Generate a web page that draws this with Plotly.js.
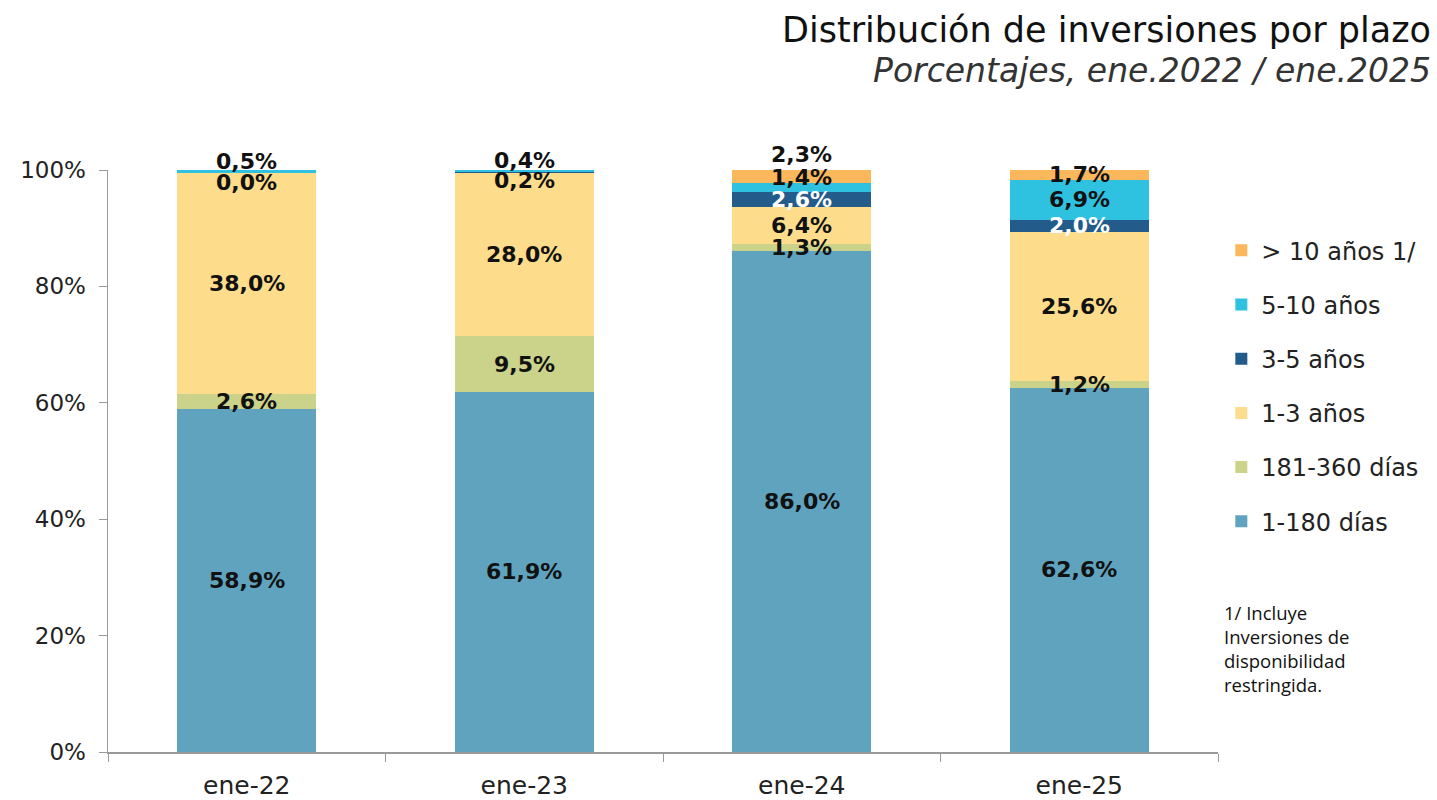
<!DOCTYPE html>
<html><head><meta charset="utf-8">
<script src="https://cdn.plot.ly/plotly-3.0.1.min.js"></script>
<style>body{margin:0;background:#fff}#chart{width:1437px;height:800px}</style>
</head><body><div id="chart"></div>
<script>
const categories = ["ene-22", "ene-23", "ene-24", "ene-25"];
const seriesNames = ["1-180 días", "181-360 días", "1-3 años", "3-5 años", "5-10 años", "> 10 años 1/"];
const d1_180   = [58.9, 61.9, 86.0, 62.6];
const d181_360 = [2.6, 9.5, 1.3, 1.2];
const a1_3     = [38.0, 28.0, 6.4, 25.6];
const a3_5     = [0.0, 0.2, 2.6, 2.0];
const a5_10    = [0.5, 0.4, 1.4, 6.9];
const a10plus  = [null, null, 2.3, 1.7];
const yTicks = [0, 20, 40, 60, 80, 100];
const yTickLabels = ["0%", "20%", "40%", "60%", "80%", "100%"];

const values = [d1_180, d181_360, a1_3, a3_5, a5_10, a10plus];
const colors = ["#5fa3bf", "#cbd28a", "#fddc8b", "#235b8b", "#2fc2e0", "#fbb75b"];
// label pixel nudges for crowded thin segments [series][category]
const nudge = {"3,0": -10, "4,0": 10, "3,1": -8, "4,1": 11, "5,2": 22, "4,2": 10};

const FONT = "DejaVu Sans, sans-serif";
const traces = values.map((v, i) => ({
  type: "bar", name: seriesNames[i], x: categories, y: v,
  marker: {color: colors[i]}, legendgroup: "g" + i, legendrank: 100 - i, hoverinfo: "skip"
}));

const annotations = [];
const cum = categories.map(() => 0);
values.forEach((v, i) => {
  v.forEach((val, j) => {
    if (val === null) return;
    const mid = cum[j] + val / 2;
    cum[j] += val;
    annotations.push({
      x: categories[j], y: mid, xref: "x", yref: "y", showarrow: false,
      text: val.toFixed(1).replace(".", ",") + "%",
      yshift: nudge[i + "," + j] || 0,
      font: {family: FONT, size: 22, weight: 600, color: (i === 3 && val >= 1) ? "#ffffff" : "#111111"}
    });
  });
});
annotations.push({
  xref: "paper", yref: "paper", x: 1.0036, y: 0.265, xanchor: "left", yanchor: "top",
  showarrow: false, align: "left",
  text: "1/ Incluye<br>Inversiones de<br>disponibilidad<br>restringida.",
  font: {family: "Open Sans, sans-serif", size: 18.5, color: "#111"}
});
annotations.push({
  xref: "paper", yref: "paper", x: 1.1939, y: 1.2405, xanchor: "right", yanchor: "middle",
  showarrow: false, align: "right",
  text: "Distribución de inversiones por plazo",
  font: {family: FONT, size: 35, color: "#111"}
});
annotations.push({
  xref: "paper", yref: "paper", x: 1.1939, y: 1.1718, xanchor: "right", yanchor: "middle",
  showarrow: false, align: "right",
  text: "<i>Porcentajes, ene.2022 / ene.2025</i>",
  font: {family: FONT, size: 33, color: "#333"}
});

const layout = {
  width: 1437, height: 800,
  margin: {l: 108, r: 219, t: 170, b: 48},
  barmode: "stack", bargap: 0.5,
  paper_bgcolor: "#fff", plot_bgcolor: "#fff",
  font: {family: FONT, color: "#222"},
  showlegend: true,
  legend: {x: 1.003, y: 0.9, xanchor: "left", yanchor: "top", traceorder: "grouped",
           tracegroupgap: 20, font: {family: FONT, size: 24, color: "#222"}, bgcolor: "rgba(0,0,0,0)"},
  xaxis: {type: "category", showline: true, linecolor: "#999", linewidth: 1.5,
          ticks: "outside", tickson: "boundaries", ticklen: 8, tickcolor: "#999",
          ticklabelstandoff: 10,
          tickfont: {family: FONT, size: 25, color: "#222"}, showgrid: false},
  yaxis: {range: [0, 100], tickvals: yTicks, ticktext: yTickLabels, showline: true,
          linecolor: "#999", linewidth: 1.5, ticks: "outside", ticklen: 8, tickcolor: "#999",
          ticklabelstandoff: 8,
          showgrid: false, zeroline: false, tickfont: {family: FONT, size: 23, color: "#222"}},
  annotations: annotations
};
Plotly.newPlot("chart", traces, layout, {displayModeBar: false, staticPlot: true});
</script></body></html>
